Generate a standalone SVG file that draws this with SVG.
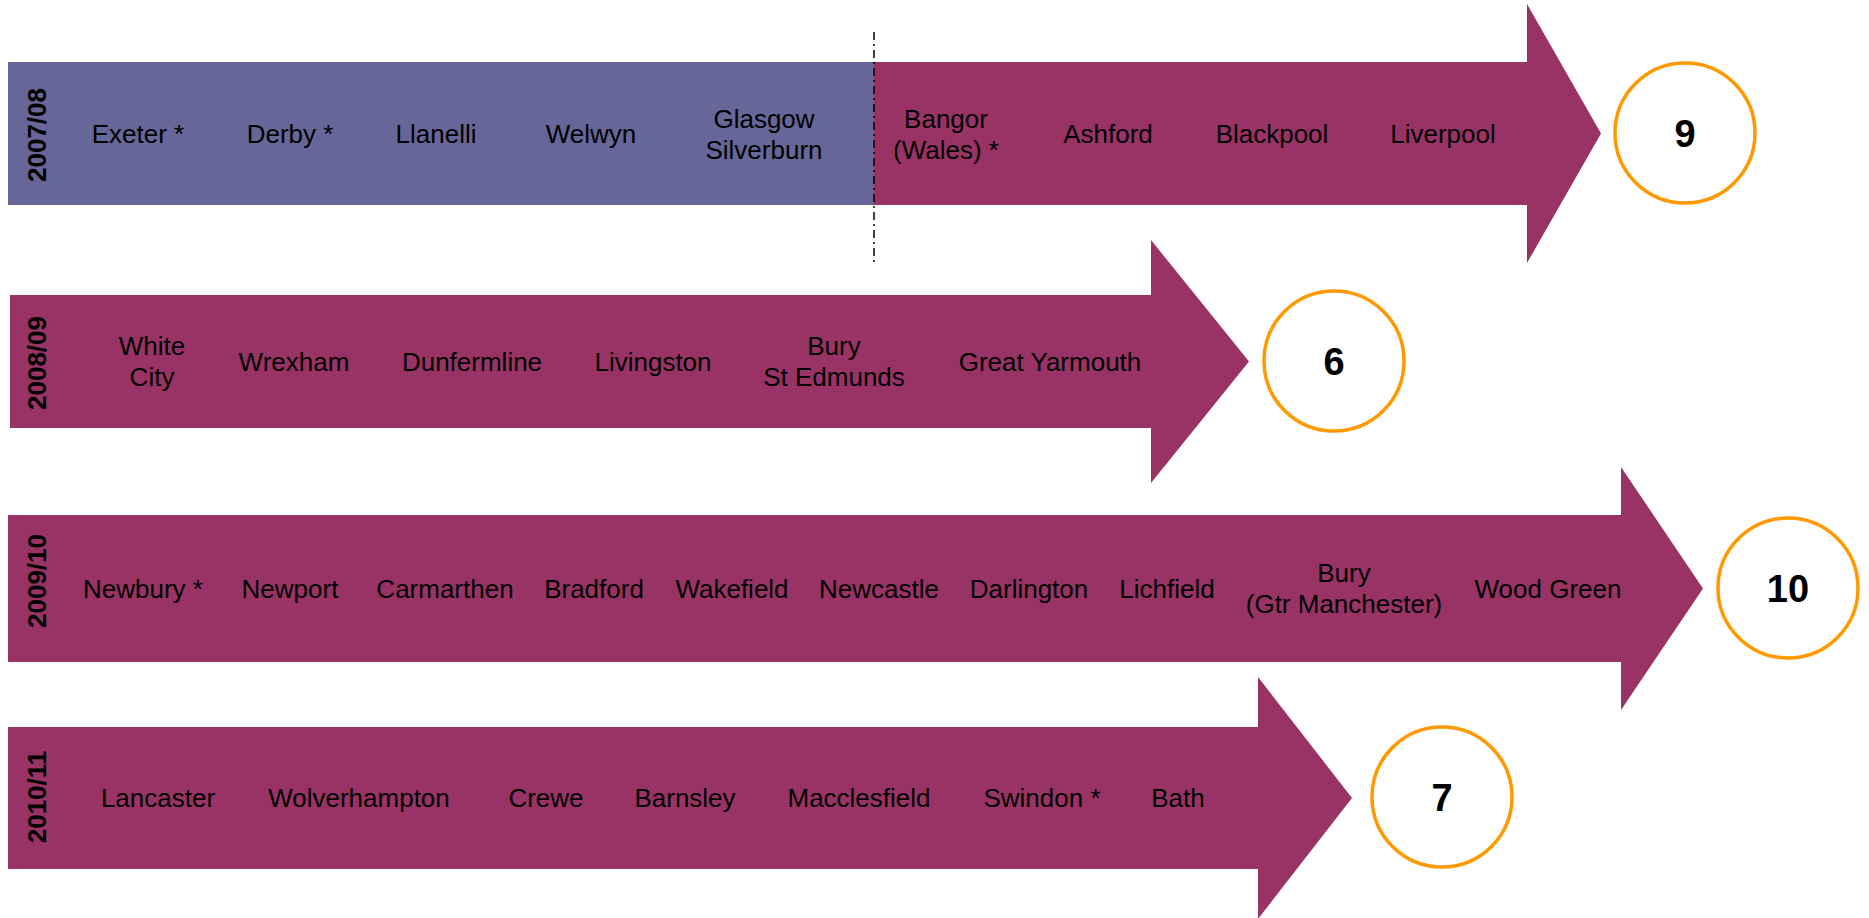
<svg xmlns="http://www.w3.org/2000/svg" width="1869" height="918" viewBox="0 0 1869 918">
<style>
.blue{fill:#666699}
.mag{fill:#993366}
.t{font-family:"Liberation Sans",Arial,sans-serif;font-size:26px;fill:#000;text-anchor:middle}
.yr{font-family:"Liberation Sans",Arial,sans-serif;font-size:26px;font-weight:bold;fill:#000;text-anchor:middle}
.cnt{fill:#fff;stroke:#FF9900;stroke-width:3.5}
.num{font-family:"Liberation Sans",Arial,sans-serif;font-size:38px;font-weight:bold;fill:#000;text-anchor:middle}
.div{stroke:#000;stroke-width:1.5;stroke-dasharray:8 4 2 4;fill:none}
</style>
<rect width="1869" height="918" fill="#fff"/>

<g id="row-2007-08">
<rect class="blue" x="8" y="62" width="866" height="143"/>
<path class="mag" d="M874,62 H1527 V4 L1601,133.5 L1527,263 V205 H874 Z"/>
<text class="yr" transform="translate(46,135) rotate(-90)">2007/08</text>
<text class="t" x="138" y="143">Exeter *</text>
<text class="t" x="290" y="143">Derby *</text>
<text class="t" x="436" y="143">Llanelli</text>
<text class="t" x="591" y="143">Welwyn</text>
<text class="t" x="764" y="127.5">Glasgow</text>
<text class="t" x="764" y="158.5">Silverburn</text>
<text class="t" x="946" y="127.5">Bangor</text>
<text class="t" x="946" y="158.5">(Wales) *</text>
<text class="t" x="1108" y="143">Ashford</text>
<text class="t" x="1272" y="143">Blackpool</text>
<text class="t" x="1443" y="143">Liverpool</text>
</g>

<g id="divider">
<line class="div" x1="874" y1="32" x2="874" y2="262"/>
</g>

<g id="count-2007-08">
<circle class="cnt" cx="1685" cy="133" r="70"/>
<text class="num" x="1685" y="147">9</text>
</g>

<g id="row-2008-09">
<path class="mag" d="M10,295 H1151 V240 L1249,361.5 L1151,483 V428 H10 Z"/>
<text class="yr" transform="translate(46,363) rotate(-90)">2008/09</text>
<text class="t" x="152" y="355">White</text>
<text class="t" x="152" y="386">City</text>
<text class="t" x="294" y="371">Wrexham</text>
<text class="t" x="472" y="371">Dunfermline</text>
<text class="t" x="653" y="371">Livingston</text>
<text class="t" x="834" y="355">Bury</text>
<text class="t" x="834" y="386">St Edmunds</text>
<text class="t" x="1050" y="371">Great Yarmouth</text>
</g>

<g id="count-2008-09">
<circle class="cnt" cx="1334" cy="361" r="70"/>
<text class="num" x="1334" y="375">6</text>
</g>

<g id="row-2009-10">
<path class="mag" d="M8,515 H1621 V467 L1703,588.5 L1621,710 V662 H8 Z"/>
<text class="yr" transform="translate(46,581) rotate(-90)">2009/10</text>
<text class="t" x="143" y="598">Newbury *</text>
<text class="t" x="290" y="598">Newport</text>
<text class="t" x="445" y="598">Carmarthen</text>
<text class="t" x="594" y="598">Bradford</text>
<text class="t" x="732" y="598">Wakefield</text>
<text class="t" x="879" y="598">Newcastle</text>
<text class="t" x="1029" y="598">Darlington</text>
<text class="t" x="1167" y="598">Lichfield</text>
<text class="t" x="1344" y="582">Bury</text>
<text class="t" x="1344" y="613">(Gtr Manchester)</text>
<text class="t" x="1548" y="598">Wood Green</text>
</g>

<g id="count-2009-10">
<circle class="cnt" cx="1788" cy="588" r="70"/>
<text class="num" x="1788" y="602">10</text>
</g>

<g id="row-2010-11">
<path class="mag" d="M8,727 H1258 V677 L1352,798 L1258,919 V869 H8 Z"/>
<text class="yr" transform="translate(46,797) rotate(-90)">2010/11</text>
<text class="t" x="158" y="807">Lancaster</text>
<text class="t" x="359" y="807">Wolverhampton</text>
<text class="t" x="546" y="807">Crewe</text>
<text class="t" x="685" y="807">Barnsley</text>
<text class="t" x="859" y="807">Macclesfield</text>
<text class="t" x="1042" y="807">Swindon *</text>
<text class="t" x="1178" y="807">Bath</text>
</g>

<g id="count-2010-11">
<circle class="cnt" cx="1442" cy="797" r="70"/>
<text class="num" x="1442" y="811">7</text>
</g>
</svg>
